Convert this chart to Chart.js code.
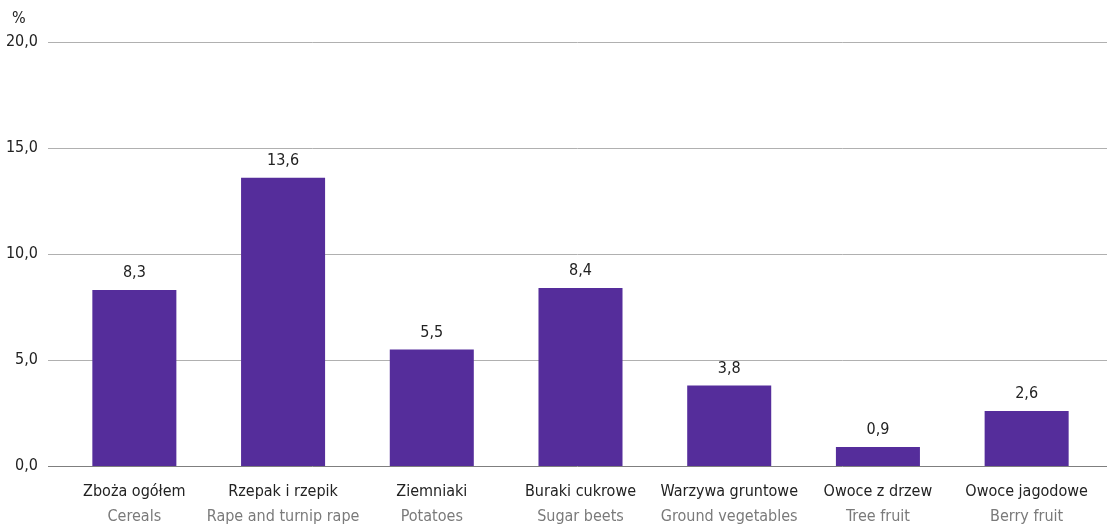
<!DOCTYPE html>
<html>
<head>
<meta charset="utf-8">
<script src="https://cdn.jsdelivr.net/npm/chart.js@4"></script>
<style>
  html, body { margin: 0; padding: 0; background: #fff; }
  #wrap { width: 1107px; height: 527px; }
</style>
</head>
<body>
<div id="wrap"><canvas id="myChart"></canvas></div>
<script>
const FONT = "'Liberation Sans Narrow', 'DejaVu Sans Condensed', 'Roboto Condensed', sans-serif";

const labelsPl = ['Zboża ogółem', 'Rzepak i rzepik', 'Ziemniaki', 'Buraki cukrowe', 'Warzywa gruntowe', 'Owoce z drzew', 'Owoce jagodowe'];
const labelsEn = ['Cereals', 'Rape and turnip rape', 'Potatoes', 'Sugar beets', 'Ground vegetables', 'Tree fruit', 'Berry fruit'];
const values = [8.3, 13.6, 5.5, 8.4, 3.8, 0.9, 2.6];
const yTicks = [0, 5, 10, 15, 20];

const fmt = v => v.toFixed(1).replace('.', ',');

// horizontal grid lines running from just past the tick labels to the right edge
const gridLines = {
  id: 'gridLines',
  beforeDatasetsDraw(chart) {
    const { ctx, scales: { y }, width } = chart;
    ctx.save();
    ctx.lineWidth = 1;
    yTicks.forEach(t => {
      const py = Math.round(y.getPixelForValue(t)) + 0.5;
      ctx.strokeStyle = t === 0 ? '#7f7f7f' : '#b0b0b0';
      ctx.beginPath();
      ctx.moveTo(48, py);
      ctx.lineTo(width, py);
      ctx.stroke();
    });
    ctx.restore();
  }
};

// values above the bars, two-line category labels and the unit sign
const annotations = {
  id: 'annotations',
  afterDatasetsDraw(chart) {
    const { ctx, scales: { x }, chartArea } = chart;
    const meta = chart.getDatasetMeta(0);
    ctx.save();
    ctx.textAlign = 'center';
    ctx.textBaseline = 'middle';
    ctx.font = '16px ' + FONT;
    ctx.fillStyle = '#222';
    meta.data.forEach((bar, i) => {
      ctx.fillText(fmt(values[i]), bar.x, bar.y - 17);
    });
    labelsPl.forEach((l, i) => {
      const px = x.getPixelForValue(i);
      ctx.fillStyle = '#222';
      ctx.fillText(l, px, chartArea.bottom + 26);
      ctx.fillStyle = '#7a7a7a';
      ctx.fillText(labelsEn[i], px, chartArea.bottom + 51);
    });
    ctx.fillStyle = '#222';
    ctx.textAlign = 'left';
    ctx.fillText('%', 12, 19);
    ctx.restore();
  }
};

new Chart(document.getElementById('myChart'), {
  type: 'bar',
  data: {
    labels: labelsPl,
    datasets: [{
      data: values,
      backgroundColor: '#552d9b',
      categoryPercentage: 1,
      barPercentage: 0.565
    }]
  },
  options: {
    responsive: true,
    maintainAspectRatio: false,
    animation: false,
    layout: { padding: { top: 42, right: 6, bottom: 61, left: 0 } },
    plugins: {
      legend: { display: false },
      tooltip: { enabled: false }
    },
    scales: {
      x: {
        grid: { display: false, drawTicks: false },
        border: { display: false },
        ticks: { display: false }
      },
      y: {
        min: 0,
        max: 20,
        afterFit(scale) { scale.width = 60; },
        grid: { display: false },
        border: { display: false },
        ticks: {
          stepSize: 5,
          padding: 14,
          color: '#222',
          font: { family: FONT, size: 16 },
          callback: v => fmt(v)
        }
      }
    }
  },
  plugins: [gridLines, annotations]
});
</script>
</body>
</html>
